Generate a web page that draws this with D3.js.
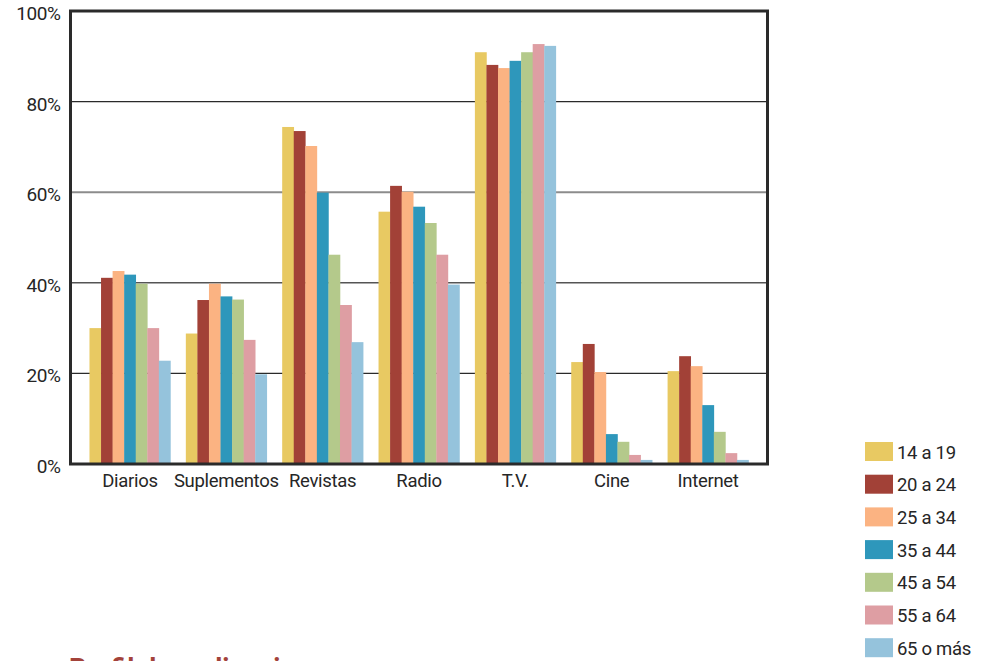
<!DOCTYPE html>
<html>
<head>
<meta charset="utf-8">
<script src="https://cdn.jsdelivr.net/npm/d3@7/dist/d3.min.js"></script>
<style>
  html, body { margin: 0; padding: 0; background: #fff; }
  svg { display: block; }
  text { font-family: Roboto, "Liberation Sans", sans-serif; fill: #262626; }
</style>
</head>
<body>
<svg id="chart" width="981" height="661"></svg>
<script>
// Media categories along the x axis
const categories = ["Diarios", "Suplementos", "Revistas", "Radio", "T.V.", "Cine", "Internet"];

// Age groups (one bar per group inside each category)
const ageGroups = ["14 a 19", "20 a 24", "25 a 34", "35 a 44", "45 a 54", "55 a 64", "65 o más"];
const groupColors = ["#e8c962", "#a24137", "#fbb382", "#2e97bb", "#b4c98b", "#de9ea3", "#95c3dc"];

// Percentage per age group, one array per category
const diarios     = [30.0, 41.1, 42.6, 41.8, 39.8, 30.0, 22.8];
const suplementos = [28.8, 36.2, 39.8, 37.0, 36.3, 27.4, 19.8];
const revistas    = [74.4, 73.5, 70.2, 59.9, 46.2, 35.1, 26.9];
const radio       = [55.7, 61.4, 60.1, 56.8, 53.2, 46.2, 39.6];
const tv          = [90.9, 88.1, 87.4, 89.0, 90.9, 92.7, 92.3];
const cine        = [22.5, 26.5, 20.3,  6.6,  4.9,  2.0,  0.9];
const internet    = [20.5, 23.8, 21.6, 13.0,  7.1,  2.4,  0.9];
const seriesByCategory = [diarios, suplementos, revistas, radio, tv, cine, internet];

// Y axis tick values and labels
const yTicks = [0, 20, 40, 60, 80, 100];
const yTickLabels = ["0%", "20%", "40%", "60%", "80%", "100%"];

const title = "Perfil de audiencia";

const svg = d3.select("#chart");
const plotLeft = 70.5, plotRight = 767.5, plotTop = 11, plotBottom = 464;
const fontStack = "Roboto, 'Liberation Sans', sans-serif";

const x = d3.scaleBand()
  .domain(categories)
  .range([plotLeft, plotRight])
  .paddingInner(0.16)
  .paddingOuter(0.197);

const xSub = d3.scaleBand()
  .domain(ageGroups)
  .range([0, x.bandwidth()]);

const y = d3.scaleLinear().domain([0, 100]).range([plotBottom, plotTop]);

const color = d3.scaleOrdinal().domain(ageGroups).range(groupColors);

// Horizontal gridlines
const gridStyle = { 20: ["#2a2a2a", 1.4], 40: ["#555", 1.6], 60: ["#8c8c8c", 2], 80: ["#2a2a2a", 1.4] };
svg.append("g")
  .selectAll("line")
  .data(yTicks.filter(t => t > 0 && t < 100))
  .join("line")
  .attr("x1", plotLeft).attr("x2", plotRight)
  .attr("y1", d => y(d)).attr("y2", d => y(d))
  .attr("stroke", d => gridStyle[d][0])
  .attr("stroke-width", d => gridStyle[d][1]);

// Bars
const groups = svg.append("g")
  .selectAll("g")
  .data(categories)
  .join("g")
  .attr("transform", d => `translate(${x(d)},0)`);

groups.selectAll("rect")
  .data((d, i) => seriesByCategory[i].map((v, j) => ({ group: ageGroups[j], value: v })))
  .join("rect")
  .attr("x", d => xSub(d.group))
  .attr("width", xSub.bandwidth() + 0.3)
  .attr("y", d => y(d.value))
  .attr("height", d => y(0) - y(d.value))
  .attr("fill", d => color(d.group));

// Frame around the plot area
svg.append("rect")
  .attr("x", plotLeft).attr("y", plotTop)
  .attr("width", plotRight - plotLeft).attr("height", plotBottom - plotTop)
  .attr("fill", "none")
  .attr("stroke", "#2a2a2a")
  .attr("stroke-width", 3);

// Y axis labels
const yAxis = d3.axisLeft(y)
  .tickValues(yTicks)
  .tickFormat((d, i) => yTickLabels[i])
  .tickSize(0)
  .tickPadding(10);
const gy = svg.append("g").attr("transform", `translate(${plotLeft},0)`).call(yAxis);
gy.select(".domain").remove();
gy.selectAll("text")
  .attr("dy", "0.45em")
  .style("font-size", "19px")
  .style("font-family", fontStack)
  .style("letter-spacing", "-0.4px")
  .style("fill", "#262626");

// X axis labels
const xAxis = d3.axisBottom(x).tickSize(0).tickPadding(10);
const gx = svg.append("g").attr("transform", `translate(0,${plotBottom})`).call(xAxis);
gx.select(".domain").remove();
gx.selectAll("text")
  .style("font-size", "18.5px")
  .style("font-family", fontStack)
  .style("letter-spacing", "-0.3px")
  .style("fill", "#262626");

// Legend
const legend = svg.append("g")
  .selectAll("g")
  .data(ageGroups)
  .join("g")
  .attr("transform", (d, i) => `translate(865,${442 + i * 32.7})`);
legend.append("rect")
  .attr("width", 28).attr("height", 19)
  .attr("fill", d => color(d));
legend.append("text")
  .attr("x", 32).attr("y", 16.5)
  .style("font-size", "18.5px")
  .style("letter-spacing", "-0.3px")
  .text(d => d);

// Section heading below the chart
svg.append("text")
  .attr("x", 69).attr("y", 678)
  .style("font-size", "27px")
  .style("font-weight", "bold")
  .style("fill", "#a3423a")
  .text(title);
</script>
</body>
</html>
